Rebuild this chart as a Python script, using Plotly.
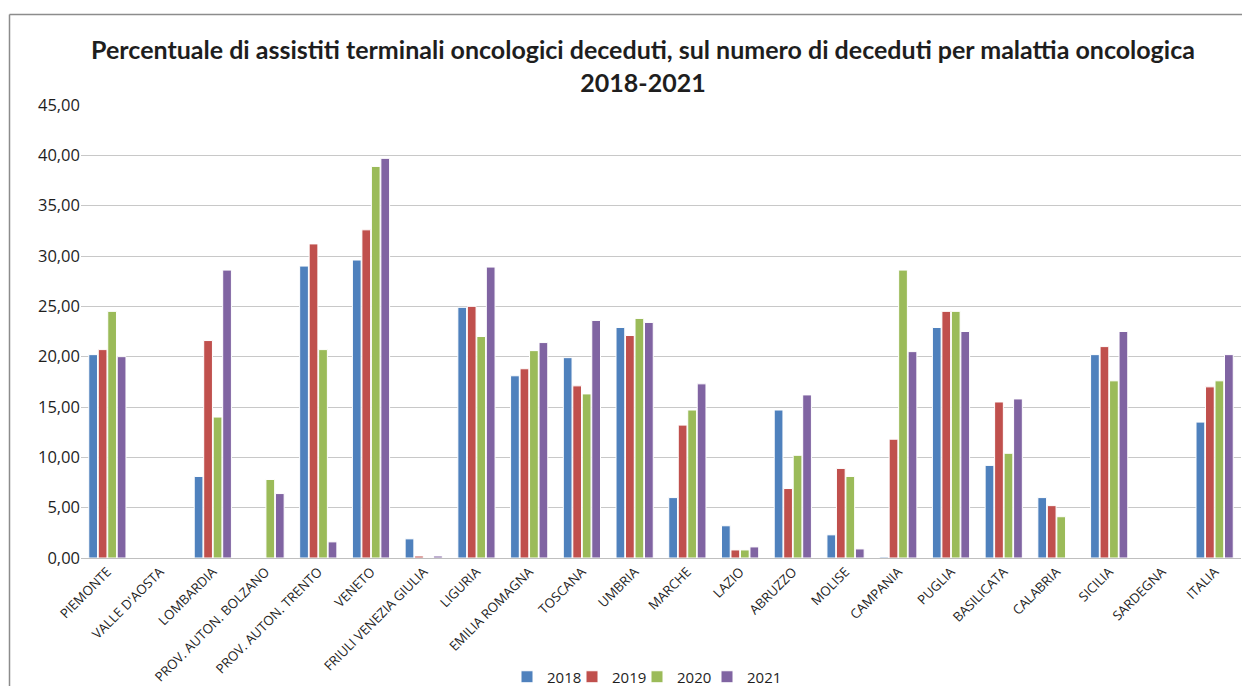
import plotly.graph_objects as go

categories = ["PIEMONTE", "VALLE D'AOSTA", "LOMBARDIA", "PROV. AUTON. BOLZANO",
              "PROV. AUTON. TRENTO", "VENETO", "FRIULI VENEZIA GIULIA", "LIGURIA",
              "EMILIA ROMAGNA", "TOSCANA", "UMBRIA", "MARCHE", "LAZIO", "ABRUZZO",
              "MOLISE", "CAMPANIA", "PUGLIA", "BASILICATA", "CALABRIA", "SICILIA",
              "SARDEGNA", "ITALIA"]

v2018 = [20.2, None, 8.1, None, 29.0, 29.6, 1.9, 24.9, 18.1, 19.9, 22.9, 6.0, 3.2,
         14.7, 2.3, 0.1, 22.9, 9.2, 6.0, 20.2, None, 13.5]
v2019 = [20.7, None, 21.6, None, 31.2, 32.6, 0.2, 25.0, 18.8, 17.1, 22.1, 13.2, 0.8,
         6.9, 8.9, 11.8, 24.5, 15.5, 5.2, 21.0, None, 17.0]
v2020 = [24.5, None, 14.0, 7.8, 20.7, 38.9, None, 22.0, 20.6, 16.3, 23.8, 14.7, 0.8,
         10.2, 8.1, 28.6, 24.5, 10.4, 4.1, 17.6, None, 17.6]
v2021 = [20.0, None, 28.6, 6.4, 1.6, 39.7, 0.2, 28.9, 21.4, 23.6, 23.4, 17.3, 1.1,
         16.2, 0.9, 20.5, 22.5, 15.8, None, 22.5, None, 20.2]

series_names = ["2018", "2019", "2020", "2021"]
series_values = [v2018, v2019, v2020, v2021]
series_colors = ["#4F81BD", "#C0504D", "#9BBB59", "#8064A2"]

font_family = "Open Sans, Noto Sans, sans-serif"
title_family = "Lato, Open Sans, sans-serif"

# figure geometry (page body has an 8px margin)
W, H = 1242, 678
L, R, T, B = 73, 9, 97, 128
PW, PH = W - L - R, H - T - B

# legend entry left edges (figure px)
legend_left_px = [499, 564, 629, 699]
legend_names = ["legend", "legend2", "legend3", "legend4"]

fig = go.Figure()
for name, vals, color, lg in zip(series_names, series_values, series_colors, legend_names):
    fig.add_trace(go.Bar(
        x=categories, y=vals, name=name, legend=lg,
        marker=dict(color=color, line=dict(color="white", width=1)),
    ))

legend_y = (PH + T - 669) / PH
for lg, px in zip(legend_names, legend_left_px):
    fig.update_layout({lg: dict(
        orientation="h", x=(px - L) / PW, xanchor="left",
        y=legend_y, yanchor="middle",
        font=dict(size=15, color="#1E1E1E"),
        bgcolor="rgba(0,0,0,0)", borderwidth=0,
    )})

fig.update_layout(
    width=W, height=H,
    paper_bgcolor="white", plot_bgcolor="white",
    separators=",.",
    barmode="group", bargap=0.28, bargroupgap=0.08,
    margin=dict(l=L, r=R, t=T, b=B, autoexpand=False),
    font=dict(family=font_family, color="#1E1E1E"),
    showlegend=True,
    title=dict(
        text="<b>Percentuale di assistiti terminali oncologici deceduti, sul numero di deceduti per malattia oncologica<br>2018-2021</b>",
        x=635 / W, xanchor="center", y=1 - 51 / H, yanchor="middle", yref="container",
        font=dict(size=25, color="#1E1E1E", family=title_family),
    ),
    xaxis=dict(
        automargin=False,
        tickangle=-45, tickfont=dict(size=13.2, color="#1E1E1E"),
        showline=True, linecolor="#BFBFBF", linewidth=1,
        ticks="", showgrid=False,
    ),
    yaxis=dict(
        automargin=False,
        range=[0, 45], dtick=5, tickformat=".2f",
        tickfont=dict(size=16.5, color="#1E1E1E"),
        showgrid=True, gridcolor="#C8C8C8", gridwidth=1,
        zeroline=True, zerolinecolor="#BFBFBF", zerolinewidth=1,
        showline=False, ticks="",
    ),
    shapes=[
        dict(type="line", xref="paper", yref="paper",
             x0=(1.5 - L) / PW, x1=(W + 5 - L) / PW,
             y0=(PH + T - 6.5) / PH, y1=(PH + T - 6.5) / PH,
             line=dict(color="#8C8C8C", width=1.5)),
        dict(type="line", xref="paper", yref="paper",
             x0=(1.5 - L) / PW, x1=(1.5 - L) / PW,
             y0=(PH + T - 6.5) / PH, y1=(PH + T - H - 5) / PH,
             line=dict(color="#8C8C8C", width=1.5)),
    ],
)

fig.write_html("out.html")
